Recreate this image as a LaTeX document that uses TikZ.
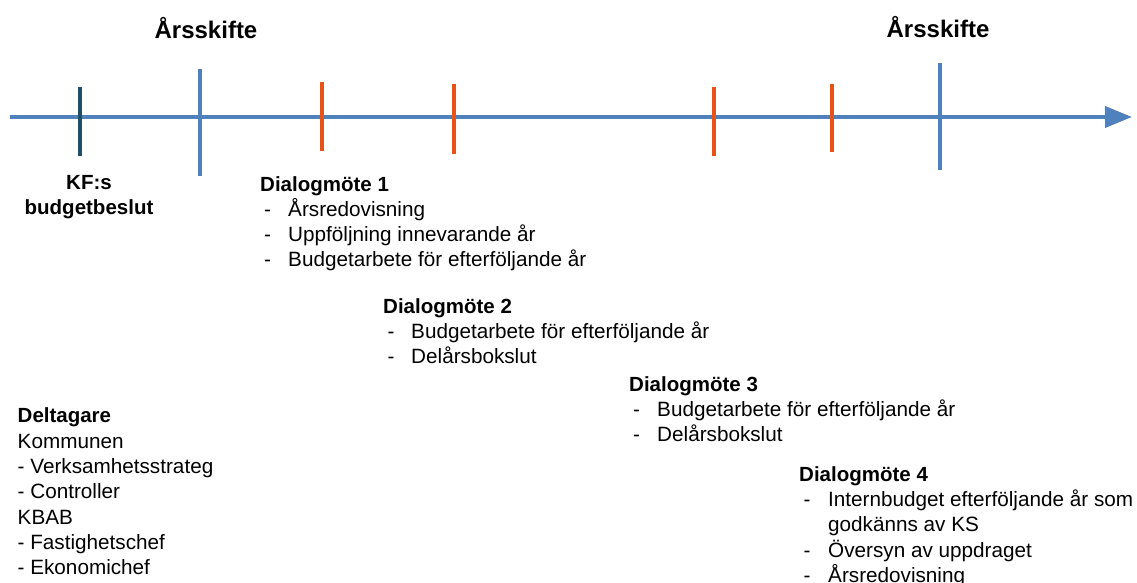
\documentclass[tikz,border=0pt]{standalone}
\usepackage{fontspec}
\setmainfont{Liberation Sans}
\usetikzlibrary{arrows.meta}
\definecolor{axisblue}{HTML}{4F81BD}
\definecolor{tickorange}{HTML}{E65319}
\definecolor{tickdark}{HTML}{1F5068}
\tikzset{
  txt/.style={anchor=base west, inner sep=0pt, font=\fontsize{20.7}{25}\selectfont, text=black},
  hd/.style={txt, font=\fontsize{20.5}{25}\selectfont\bfseries},
  yearlbl/.style={anchor=base, inner sep=0pt, font=\fontsize{24}{28}\selectfont\bfseries},
  kflbl/.style={anchor=base, inner sep=0pt, font=\fontsize{20.5}{25}\selectfont\bfseries},
  bluetick/.style={draw=axisblue, line width=3.6pt},
  orangetick/.style={draw=tickorange, line width=3.6pt},
  darktick/.style={draw=tickdark, line width=4pt},
}
\begin{document}
\begin{tikzpicture}[x=1pt,y=-1pt]
\useasboundingbox (0,0) rectangle (1137,583);
% axis
\coordinate (axstart) at (10,117);
\coordinate (axend) at (1132,117);
\draw[axisblue, line width=4pt, -{Triangle[length=27pt,width=21pt]}] (axstart) -- (axend);
% ticks
\draw[darktick] (80,87) -- (80,156);
\draw[bluetick] (200,69) -- (200,176);
\draw[orangetick] (322,82) -- (322,151);
\draw[orangetick] (454,84) -- (454,154);
\draw[orangetick] (714,87) -- (714,156);
\draw[orangetick] (832,84) -- (832,152);
\draw[bluetick] (940,63) -- (940,170);
% year labels
\node[yearlbl] (ar1) at (206,39) {Årsskifte};
\node[yearlbl] (ar2) at (938,38) {Årsskifte};
% KF
\node[kflbl] (kf1) at (89,189.5) {KF:s};
\node[kflbl] (kf2) at (89,214.5) {budgetbeslut};
% Dialogmöte 1
\node[hd] (d1) at (260,191) {Dialogmöte 1};
\node[txt] (d1a) at (264,216) {-}; \node[txt] (d1at) at (288,216) {Årsredovisning};
\node[txt] (d1b) at (264,241) {-}; \node[txt] (d1bt) at (288,241) {Uppföljning innevarande år};
\node[txt] (d1c) at (264,266) {-}; \node[txt] (d1ct) at (288,266) {Budgetarbete för efterföljande år};
% Dialogmöte 2
\node[hd] (d2) at (383,313.3) {Dialogmöte 2};
\node[txt] (d2a) at (387.5,338.3) {-}; \node[txt] (d2at) at (411,338.3) {Budgetarbete för efterföljande år};
\node[txt] (d2b) at (387.5,363.5) {-}; \node[txt] (d2bt) at (411,363.5) {Delårsbokslut};
% Dialogmöte 3
\node[hd] (d3) at (629,391.7) {Dialogmöte 3};
\node[txt] (d3a) at (633,416.7) {-}; \node[txt] (d3at) at (657,416.7) {Budgetarbete för efterföljande år};
\node[txt] (d3b) at (633,441.7) {-}; \node[txt] (d3bt) at (657,441.7) {Delårsbokslut};
% Dialogmöte 4
\node[hd] (d4) at (799,481.7) {Dialogmöte 4};
\node[txt] (d4a) at (803.5,506.7) {-}; \node[txt] (d4at) at (828,506.7) {Internbudget efterföljande år som};
\node[txt] (d4at2) at (828,531.7) {godkänns av KS};
\node[txt] (d4b) at (803.5,557.2) {-}; \node[txt] (d4bt) at (828,557.2) {Översyn av uppdraget};
\node[txt] (d4c) at (803.5,582.5) {-}; \node[txt] (d4ct) at (828,582.5) {Årsredovisning};
% Deltagare
\node[hd] (del) at (17.5,422.7) {Deltagare};
\node[txt] (del1) at (17.5,448.3) {Kommunen};
\node[txt] (del2) at (17.5,473.5) {- Verksamhetsstrateg};
\node[txt] (del3) at (17.5,498.8) {- Controller};
\node[txt] (del4) at (17.5,524) {KBAB};
\node[txt] (del5) at (17.5,549) {- Fastighetschef};
\node[txt] (del6) at (17.5,574.2) {- Ekonomichef};
\end{tikzpicture}
\end{document}
